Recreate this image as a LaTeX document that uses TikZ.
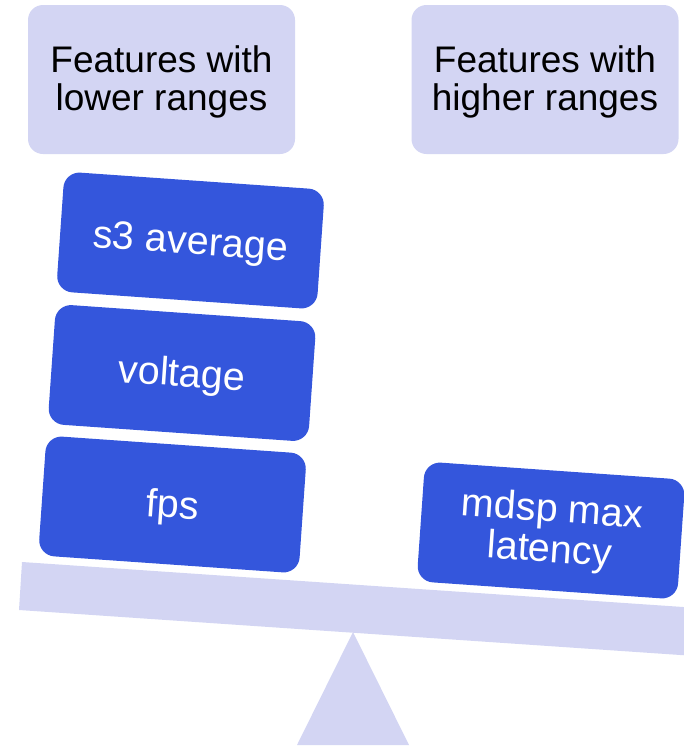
\documentclass[tikz,border=0pt]{standalone}
\usepackage{fontspec}
\setmainfont{Liberation Sans}
\definecolor{lavender}{HTML}{D3D5F3}
\definecolor{weightblue}{HTML}{3456DC}
% extra room above a text block, which pushes the text lower inside its node
\newcommand\droptext[2]{\raisebox{0pt}[\dimexpr\height+#1\relax][\depth]{#2}}
% centred stack of lines with no side padding
\newcommand\linesof[1]{\begin{tabular}{@{}c@{}}#1\end{tabular}}
\tikzset{
  header/.style={fill=lavender, rounded corners=15pt, minimum width=267pt,
    minimum height=149pt, text=black,
    font=\fontsize{37}{38}\selectfont, inner sep=0pt},
  weight/.style={fill=weightblue, rounded corners=16pt, minimum width=261pt,
    minimum height=120pt, text=white, rotate=-4,
    font=\fontsize{39.5}{39}\selectfont, inner sep=0pt},
  oneline/.style={weight, text height=35pt, text depth=8pt},
  balance/.style={fill=lavender, draw=none}
}
\begin{document}
\begin{tikzpicture}[x=1pt, y=-1pt]
  \useasboundingbox (0,0) rectangle (684,747);
  \clip (0,0) rectangle (684,747);

  % category headings
  \node[header] (low)  at (161.5,79.5) {\droptext{8pt}{\linesof{Features with\\lower ranges}}};
  \node[header] (high) at (545,79.5)   {\droptext{8pt}{\linesof{Features with\\higher ranges}}};

  % seesaw: tilted beam and pivot
  \fill[balance] (22,562) -- (720,609.5) -- (720,657.7) -- (19,610) -- cycle;
  \coordinate (pivot) at (353,632);
  \fill[balance] (pivot) -- (409,745) -- (297,745) -- cycle;

  % weights on the left pan
  \node[oneline] (fps)     at (172.5,504.5) {fps};
  \node[oneline] (voltage) at (182,373)     {voltage};
  \node[oneline] (s3)      at (190.5,240.5) {s3 average};

  % weight on the right pan
  \node[weight] (mdsp)    at (551,530.5)   {\droptext{6pt}{\linesof{mdsp max\\latency}}};
\end{tikzpicture}
\end{document}
